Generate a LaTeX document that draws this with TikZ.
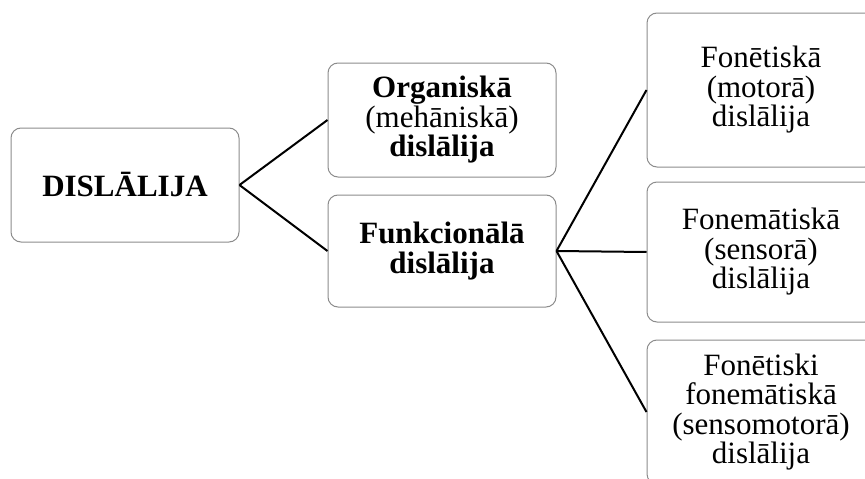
\documentclass[tikz,border=0pt]{standalone}
\usepackage{fontspec}
\setmainfont{Liberation Serif}
\tikzset{
  box/.style={draw=black!45, line width=1pt, rounded corners=10pt, fill=white,
    align=center, minimum width=228pt, inner sep=2pt,
    font={\fontsize{31}{29.5}\selectfont}},
  link/.style={draw=black, line width=2pt}
}
\begin{document}
\begin{tikzpicture}[x=1pt, y=-1pt]
\useasboundingbox (0,0) rectangle (865,479);
\fill[white] (0,0) rectangle (865,479);
\clip (0,0) rectangle (865,479);
\node[box, minimum height=114pt] (a) at (125,185) {\textbf{DISLĀLIJA}};
\node[box, minimum height=114pt] (b) at (442,120) {\textbf{Organiskā}\\(mehāniskā)\\\textbf{dislālija}};
\node[box, minimum height=112pt] (c) at (442,251) {\textbf{Funkcionālā}\\\textbf{dislālija}};
\node[box, minimum height=154pt] (d) at (761,90) {Fonētiskā\\(motorā)\\dislālija};
\node[box, minimum height=140pt] (e) at (761,252) {Fonemātiskā\\(sensorā)\\dislālija};
\node[box, minimum height=144pt] (f) at (761,412) {Fonētiski\\fonemātiskā\\(sensomotorā)\\dislālija};
\draw[link] (a.east) -- (b.west);
\draw[link] (a.east) -- (c.west);
\draw[link] (c.east) -- (d.west);
\draw[link] (c.east) -- (e.west);
\draw[link] (c.east) -- (f.west);
\end{tikzpicture}
\end{document}
